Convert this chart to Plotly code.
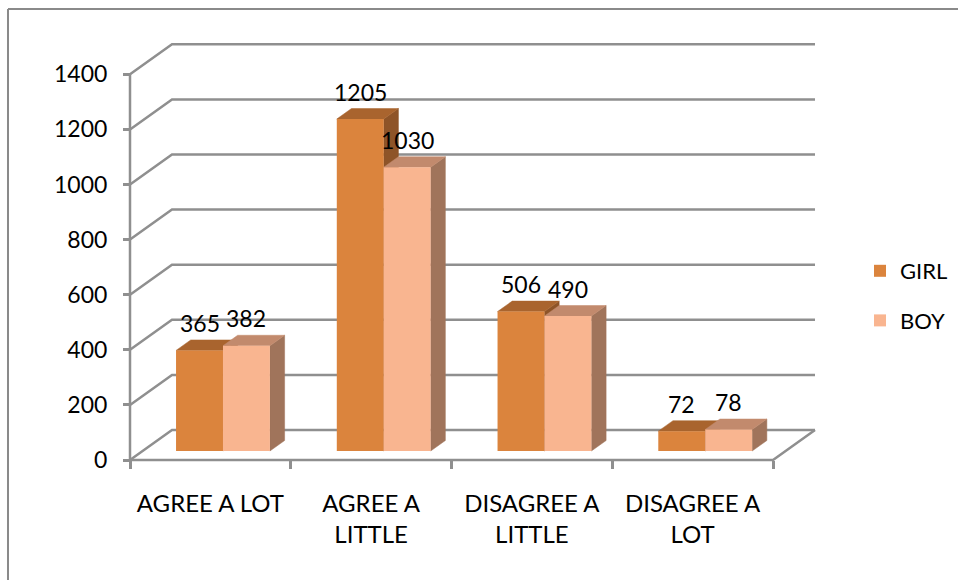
import plotly.graph_objects as go

# Survey responses by gender
categories = ["AGREE A LOT", "AGREE A<br>LITTLE", "DISAGREE A<br>LITTLE", "DISAGREE A<br>LOT"]
girl = [365, 1205, 506, 72]
boy = [382, 1030, 490, 78]
y_ticks = [0, 200, 400, 600, 800, 1000, 1200, 1400]

# pseudo-3D projection: depth shift in axis units (category units, value units)
DX = 0.2613
DY = 108.9
F0, F1 = 0.30, 0.65          # front / back depth of the bar boxes
BAR_W = 0.292
GRID = "#8f8f8f"

GIRL_FRONT, GIRL_TOP, GIRL_SIDE = "#DB843D", "#A9642E", "#8E5428"
BOY_FRONT, BOY_TOP, BOY_SIDE = "#F9B590", "#C28A6D", "#A0745B"

FONT = "Lato"
FS = 23


def proj(x, v, d):
    return x + d * DX, v + d * DY


def path(points):
    return "M " + " L ".join(f"{x:.4f},{y:.3f}" for x, y in points) + " Z"


def open_path(points):
    return "M " + " L ".join(f"{x:.4f},{y:.3f}" for x, y in points)


shapes = []

# walls: gridlines on the left side wall and back wall
x0, x1 = -0.5, len(categories) - 0.5
for v in y_ticks:
    pts = [proj(x0, v, 0), proj(x0, v, 1), proj(x1, v, 1)]
    shapes.append(dict(type="path", path=open_path(pts), xref="x", yref="y",
                       line=dict(color=GRID, width=2.5), layer="below"))
# floor outline
floor = [proj(x0, 0, 0), proj(x1, 0, 0), proj(x1, 0, 1)]
shapes.append(dict(type="path", path=open_path(floor), xref="x", yref="y",
                   line=dict(color=GRID, width=2.5), layer="below"))
# front vertical axis
shapes.append(dict(type="line", x0=x0, x1=x0, y0=0, y1=y_ticks[-1], xref="x", yref="y",
                   line=dict(color=GRID, width=2.5), layer="below"))


def box_faces(xl, xr, val, top_c, side_c):
    side = [proj(xr, 0, F0), proj(xr, 0, F1), proj(xr, val, F1), proj(xr, val, F0)]
    top = [proj(xl, val, F0), proj(xr, val, F0), proj(xr, val, F1), proj(xl, val, F1)]
    return [
        dict(type="path", path=path(side), xref="x", yref="y", fillcolor=side_c,
             line=dict(color=side_c, width=0.5), layer="below"),
        dict(type="path", path=path(top), xref="x", yref="y", fillcolor=top_c,
             line=dict(color=top_c, width=0.5), layer="below"),
    ]


annotations = []
for i in range(len(categories)):
    gl, gr = i - BAR_W, i
    bl, br = i, i + BAR_W
    shapes += box_faces(gl, gr, girl[i], GIRL_TOP, GIRL_SIDE)
    shapes += box_faces(bl, br, boy[i], BOY_TOP, BOY_SIDE)
    for (xl, xr, val) in [(gl, gr, girl[i]), (bl, br, boy[i])]:
        ax, ay = proj((xl + xr) / 2, val, F1)
        annotations.append(dict(x=(xl + xr) / 2 + F0 * DX, y=ay, xref="x", yref="y",
                                text=str(val), showarrow=False, yanchor="bottom",
                                yshift=1, font=dict(family=FONT, size=FS, color="black")))

# outer chart frame (left and top edges)
shapes.append(dict(type="line", xref="paper", yref="paper", x0=-0.1582, x1=1.2, y0=1.0598, y1=1.0598,
                   line=dict(color="#8a8a8a", width=2)))
shapes.append(dict(type="line", xref="paper", yref="paper", x0=-0.1582, x1=-0.1582, y0=-0.3, y1=1.0598,
                   line=dict(color="#8a8a8a", width=2)))

xs = list(range(len(categories)))
fig = go.Figure()
fig.add_trace(go.Bar(name="GIRL", x=[x - BAR_W / 2 + F0 * DX for x in xs], y=girl,
                     base=[F0 * DY] * len(xs), width=BAR_W, marker=dict(color=GIRL_FRONT, line=dict(width=0)),
                     legendgroup="girl", hoverinfo="y"))
fig.add_trace(go.Bar(name="BOY", x=[x + BAR_W / 2 + F0 * DX for x in xs], y=boy,
                     base=[F0 * DY] * len(xs), width=BAR_W, marker=dict(color=BOY_FRONT, line=dict(width=0)),
                     legendgroup="boy", hoverinfo="y"))

PX_PER_CAT = 160.75
PX_PER_UNIT = 0.2755
L, R, T, B = 120, 130, 35, 110
W, H = 958, 580
plot_w = W - L - R
plot_h = H - T - B
x_range = [-0.5 - (130 - L) / PX_PER_CAT, -0.5 + (W - R - 130) / PX_PER_CAT]
y_range = [(460 - (H - B)) / PX_PER_UNIT, (460 - T) / PX_PER_UNIT]

fig.update_layout(
    width=W, height=H,
    margin=dict(l=L, r=R, t=T, b=B, autoexpand=False),
    paper_bgcolor="white", plot_bgcolor="rgba(0,0,0,0)",
    barmode="overlay",
    font=dict(family=FONT, size=FS, color="black"),
    shapes=shapes,
    annotations=annotations,
    showlegend=True,
    legend=dict(x=(860 - L) / plot_w, xanchor="left", y=0.4, yanchor="middle",
                traceorder="grouped", tracegroupgap=18, bgcolor="rgba(0,0,0,0)",
                font=dict(family=FONT, size=22)),
    xaxis=dict(range=x_range, anchor="free", position=((H - B) - 460) / plot_h,
               tickmode="array", tickvals=xs, ticktext=categories, ticks="",
               tickfont=dict(family=FONT, size=24),
               showgrid=False, zeroline=False, showline=False, ticklabelstandoff=27,
               minor=dict(tickmode="array", tickvals=[x0 + k for k in range(len(categories) + 1)],
                          ticks="outside", ticklen=8, tickwidth=2.5, tickcolor=GRID, showgrid=False),
               fixedrange=True),
    yaxis=dict(range=y_range, anchor="free", position=(130 - L) / plot_w,
               tickmode="array", tickvals=y_ticks, ticks="outside", ticklen=7, tickwidth=2.5,
               tickcolor=GRID, showgrid=False, zeroline=False, showline=False,
               ticklabelstandoff=11, fixedrange=True),
)

fig.write_html("out.html")
